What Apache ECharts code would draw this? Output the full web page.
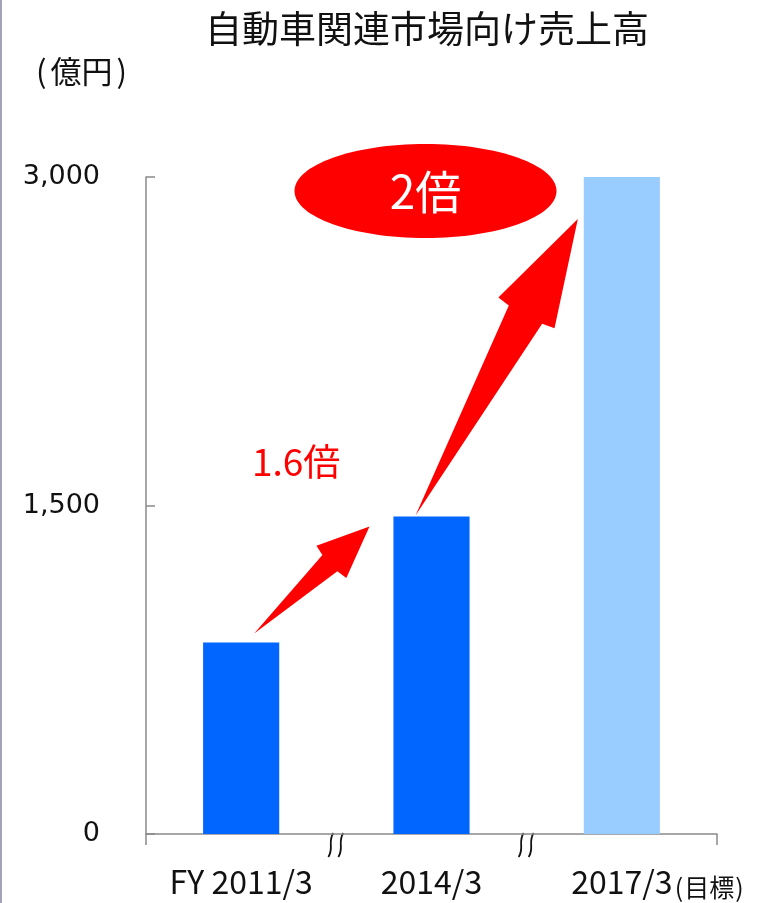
<!DOCTYPE html>
<html>
<head>
<meta charset="utf-8">
<script src="https://cdn.jsdelivr.net/npm/echarts@6/dist/echarts.min.js"></script>
<style>
html,body{margin:0;padding:0;background:#fff;}
#c{width:772px;height:903px;}
</style>
</head>
<body>
<div id="c"></div>
<script>
// ---- data ----
const categories = ['FY 2011/3', '2014/3', '2017/3'];
const sales = [875, 1450, 3000];
const barColors = ['#0066FF', '#0066FF', '#99CCFF'];
const yMin = 0, yMax = 3000, yInterval = 1500;
const titleText = '自動車関連市場向け売上高';
const unitText = '億円';
const targetNote = '目標';
const growthLabels = ['1.6倍', '2倍'];

const JP = '"Noto Sans CJK JP", "Noto Sans", sans-serif';
const NUM = '"DejaVu Sans", Verdana, sans-serif';
const AXIS = '#8a8a8a';

const chart = echarts.init(document.getElementById('c'), null, {renderer: 'canvas'});
chart.setOption({
  animation: false,
  backgroundColor: '#fff',
  title: {
    text: titleText, left: 200, top: 5,
    textStyle: {fontFamily: JP, fontSize: 37, fontWeight: 'normal', color: '#111'}
  },
  grid: {left: 146, right: 55, top: 177, bottom: 69, containLabel: false},
  xAxis: {
    type: 'category', data: categories,
    axisLine: {lineStyle: {color: AXIS, width: 1.5}},
    axisTick: {show: false},
    axisLabel: {interval: 0, hideOverlap: false, fontFamily: JP, fontSize: 32, color: '#111', margin: 32}
  },
  yAxis: {
    type: 'value', min: yMin, max: yMax, interval: yInterval,
    axisLine: {show: true, lineStyle: {color: AXIS, width: 1.5}},
    axisTick: {show: true, inside: true, length: 9, lineStyle: {color: AXIS, width: 1.5}},
    splitLine: {show: false},
    axisLabel: {fontFamily: NUM, fontSize: 27, color: '#111', margin: 46,
      formatter: v => v.toLocaleString('en-US')}
  },
  series: [{
    type: 'bar', barWidth: '40%',
    data: sales.map((v, i) => ({value: v, itemStyle: {color: barColors[i]}}))
  }]
});

function px(i, v) { return chart.convertToPixel({gridIndex: 0}, [i, v]); }
function arrow(tail, tip, headLen, headHalf, shaftHalf) {
  const dx = tip[0] - tail[0], dy = tip[1] - tail[1];
  const L = Math.hypot(dx, dy), ux = dx / L, uy = dy / L;
  const pxv = -uy, pyv = ux;
  const bx = tip[0] - ux * headLen, by = tip[1] - uy * headLen;
  const sx = bx - ux * 2, sy = by - uy * 2;
  return [
    tail,
    [sx - pxv * shaftHalf, sy - pyv * shaftHalf],
    [bx - pxv * headHalf, by - pyv * headHalf],
    tip,
    [bx + pxv * headHalf, by + pyv * headHalf],
    [sx + pxv * shaftHalf, sy + pyv * shaftHalf]
  ];
}
function parenText(word, size, parenPad) {
  return {
    text: '{p|(}{c|' + word + '}{p|)}',
    rich: {
      p: {fontFamily: JP, fontSize: size, fill: '#111', padding: [0, parenPad]},
      c: {fontFamily: JP, fontSize: size, fill: '#111'}
    }
  };
}

const p0 = px(0, sales[0]), p1 = px(1, sales[1]), p2 = px(2, sales[2]);
const base0 = px(0, yMin), base1 = px(1, yMin), base2 = px(2, yMin);
const axisY = base0[1];
const gridRect = chart.getModel().getComponent('grid', 0).coordinateSystem.getRect();
const xLeft = gridRect.x, xRight = gridRect.x + gridRect.width;
const breaks = [(base0[0] + base1[0]) / 2, (base1[0] + base2[0]) / 2];

const graphics = [];
// left frame line
graphics.push({type: 'line', shape: {x1: 1, y1: 0, x2: 1, y2: 903}, style: {stroke: '#a4a4b8', lineWidth: 2}});
// unit label
graphics.push({type: 'text', left: 36, top: 56, style: parenText(unitText, 31, 4)});
// end ticks on x axis
[xLeft, xRight].forEach(x => graphics.push({type: 'line', shape: {x1: x, y1: axisY, x2: x, y2: axisY + 11}, style: {stroke: AXIS, lineWidth: 1.5}}));
// break marks
breaks.forEach(cx => {
  [cx - 5, cx + 5].forEach(x => graphics.push({
    type: 'bezierCurve',
    shape: {x1: x - 3, y1: axisY + 23, x2: x + 2, y2: axisY - 1, cpx1: x + 3, cpy1: axisY + 14, cpx2: x - 4, cpy2: axisY + 8},
    style: {stroke: '#111', lineWidth: 1.8, fill: null}
  }));
});
// arrows
graphics.push({type: 'polygon', shape: {points: arrow([p0[0] + 13, p0[1] - 9], [p1[0] - 62, p1[1] + 10], 52, 22, 11)}, style: {fill: '#FF0000'}});
graphics.push({type: 'polygon', shape: {points: arrow([p1[0] - 16, p1[1] - 1], [p2[0] - 44, p2[1] + 42], 107, 32, 19)}, style: {fill: '#FF0000'}});
// ellipse + 2倍
const ec = [p1[0] - 6, p2[1] + 14];
graphics.push({type: 'ellipse', shape: {cx: ec[0], cy: ec[1], rx: 131, ry: 47}, style: {fill: '#FF0000'}});
graphics.push({type: 'text', x: ec[0], y: ec[1] + 1, style: {text: growthLabels[1], fontFamily: JP, fontSize: 46, fill: '#fff', align: 'center', verticalAlign: 'middle'}});
// 1.6倍
graphics.push({type: 'text', x: p0[0] + 55, y: p0[1] - 180, style: {text: growthLabels[0], fontFamily: JP, fontSize: 37, fill: '#FF0000', align: 'center', verticalAlign: 'middle'}});
// (目標)
graphics.push({type: 'text', x: base2[0] + 52, y: axisY + 53, style: Object.assign(parenText(targetNote, 25, 1), {align: 'left', verticalAlign: 'middle'})});

chart.setOption({graphic: graphics});
</script>
</body>
</html>
